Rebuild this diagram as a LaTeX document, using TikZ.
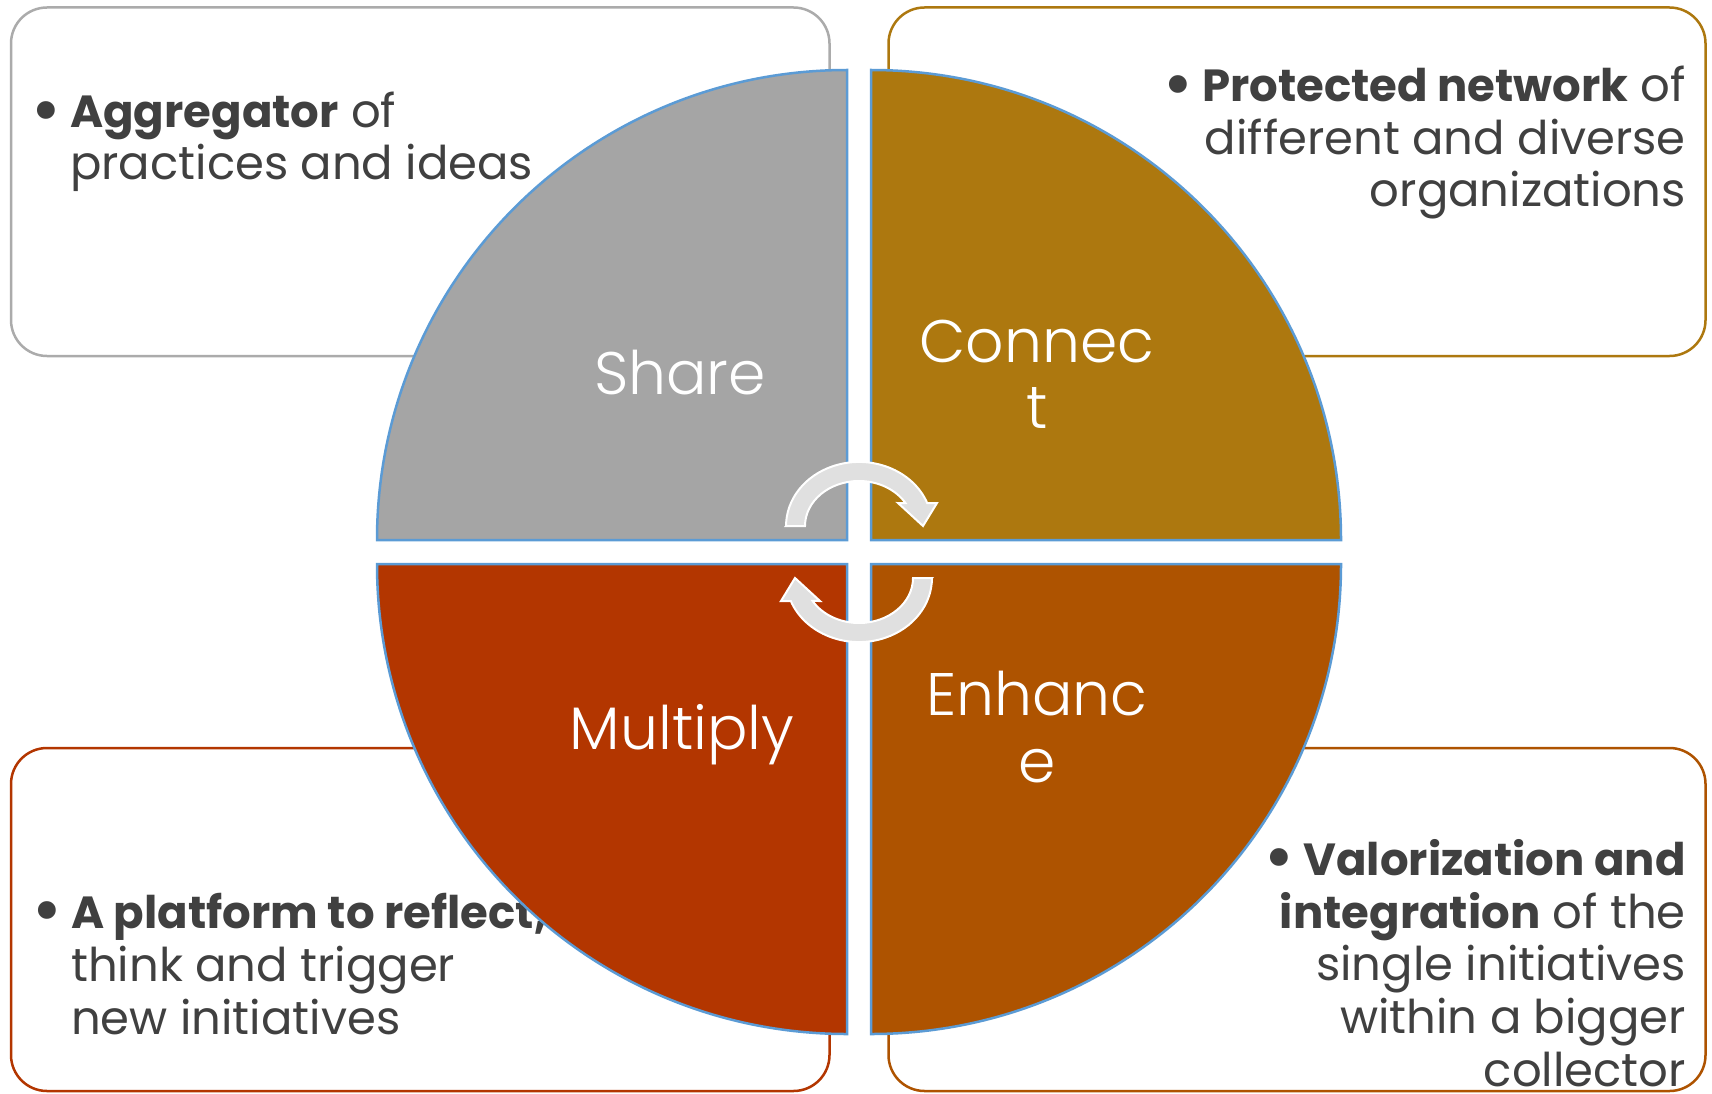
\documentclass[tikz,border=0pt]{standalone}
\usepackage{fontspec}
\setmainfont{Poppins}
\IfFontExistsTF{Poppins Light}{\newfontfamily\lightfont{Poppins Light}}{\newfontfamily\lightfont{Poppins}}
\definecolor{qgray}{HTML}{A5A5A5}
\definecolor{qgold}{HTML}{AD780F}
\definecolor{qburnt}{HTML}{AE5300}
\definecolor{qred}{HTML}{B33600}
\definecolor{qblue}{HTML}{5B9BD5}
\definecolor{boxgray}{HTML}{ABABAB}
\definecolor{txtgray}{HTML}{404040}
\definecolor{arrgray}{HTML}{E0E0E0}
\newcommand\mybul{\makebox[31pt][l]{\hspace{7pt}\makebox[0pt][c]{\raisebox{-0.14em}{\scalebox{1.55}{•}}}}}
\newcommand\mybf[1]{{\fontsize{45}{52}\selectfont\bfseries #1}}
\tikzset{
  boxst/.style={rounded corners=36pt, line width=2.5pt, fill=white},
  quad/.style={draw=qblue, line width=2.5pt},
  bodytxt/.style={text=txtgray, inner sep=0pt, font=\fontsize{46.5}{52}\selectfont},
  lbl/.style={text=white, inner sep=0pt, anchor=base, font=\lightfont\fontsize{60}{66}\selectfont},
  cyc/.style={fill=arrgray, draw=white, line width=2pt, line join=miter},
}
\begin{document}
\begin{tikzpicture}[x=1pt,y=1pt]
\useasboundingbox (0,0) rectangle (1712,-1094);
% text boxes
\draw[boxst, draw=boxgray] (11,-7.5) rectangle (829.5,-356);
\draw[boxst, draw=qgold] (888.5,-7.5) rectangle (1705.5,-356);
\draw[boxst, draw=qred] (11,-748) rectangle (829.5,-1091);
\draw[boxst, draw=qburnt] (888.5,-748) rectangle (1705.5,-1091);
% top-left text
\node[bodytxt, anchor=base west] (tl1) at (39,-128) {\mybul\mybf{Aggregator} of};
\node[bodytxt, anchor=base west] (tl2) at (70,-180) {practices and ideas};
% top-right text
\node[bodytxt, anchor=base east] (tr1) at (1686,-101.7) {\mybul\mybf{Protected network} of};
\node[bodytxt, anchor=base east] (tr2) at (1686,-155) {different and diverse};
\node[bodytxt, anchor=base east] (tr3) at (1686,-207) {organizations};
% bottom-left text
\node[bodytxt, anchor=base west] (bl1) at (40,-928.3) {\mybul\mybf{A platform to reflect,}};
\node[bodytxt, anchor=base west] (bl2) at (71,-981.7) {think and trigger};
\node[bodytxt, anchor=base west] (bl3) at (71,-1034.3) {new initiatives};
% bottom-right text
\node[bodytxt, anchor=base east] (br1) at (1686,-875) {\mybul\mybf{Valorization and}};
\node[bodytxt, anchor=base east] (br2) at (1686,-928.3) {\mybf{integration} of the};
\node[bodytxt, anchor=base east] (br3) at (1686,-980) {single initiatives};
\node[bodytxt, anchor=base east] (br4) at (1686,-1033.3) {within a bigger};
\node[bodytxt, anchor=base east] (br5) at (1686,-1086.7) {collector};
% quadrants
\draw[quad, fill=qgray] (847,-540) -- (847,-70) arc[start angle=90, end angle=180, radius=470] -- cycle;
\draw[quad, fill=qgold] (871,-540) -- (871,-70) arc[start angle=90, end angle=0, radius=470] -- cycle;
\draw[quad, fill=qred] (847,-564) -- (377,-564) arc[start angle=180, end angle=270, radius=470] -- cycle;
\draw[quad, fill=qburnt] (871,-564) -- (1341,-564) arc[start angle=0, end angle=-90, radius=470] -- cycle;
% labels
\node[lbl] (share) at (680,-394) {Share};
\node[lbl] (conn1) at (1037,-362) {Connec};
\node[lbl] (conn2) at (1037,-428) {t};
\node[lbl] (mult) at (682,-749) {Multiply};
\node[lbl] (enh1) at (1037,-715) {Enhanc};
\node[lbl] (enh2) at (1037,-782) {e};
% cycle arrows
\path[cyc] (786,-526) -- (805,-526) arc[start angle=180, end angle=30.7, x radius=54, y radius=45]
  -- (898,-503) -- (923,-526) -- (937,-503) -- (927.2,-503)
  arc[start angle=21, end angle=180, x radius=73, y radius=64] -- cycle;
\path[cyc, rotate around={180:(859,-552)}] (786,-526) -- (805,-526) arc[start angle=180, end angle=30.7, x radius=54, y radius=45]
  -- (898,-503) -- (923,-526) -- (937,-503) -- (927.2,-503)
  arc[start angle=21, end angle=180, x radius=73, y radius=64] -- cycle;
\end{tikzpicture}
\end{document}
